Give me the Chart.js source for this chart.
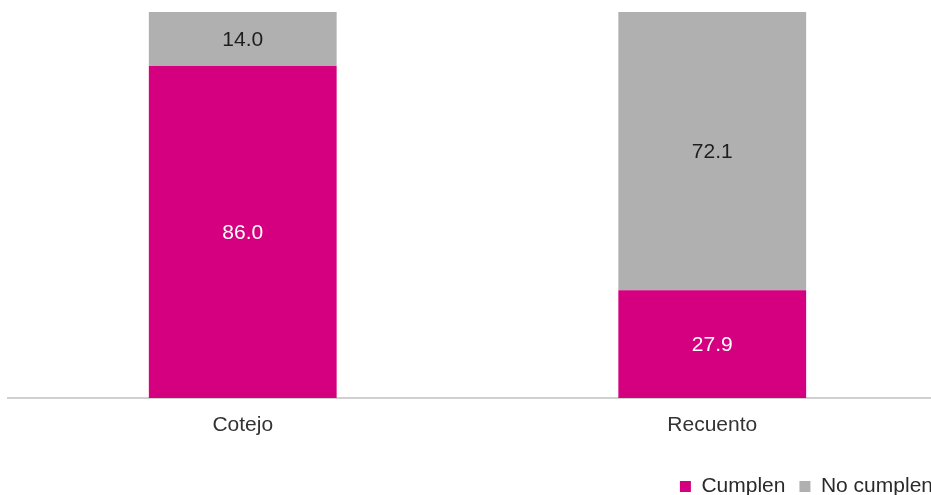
<!DOCTYPE html>
<html>
<head>
<meta charset="utf-8">
<script src="https://cdn.jsdelivr.net/npm/chart.js@4.4.0/dist/chart.umd.min.js"></script>
<style>
  html, body { margin: 0; padding: 0; background: #fff; overflow: hidden; }
  body { width: 931px; height: 495px; }
  #caja { width: 947px; height: 495px; position: relative; }
</style>
</head>
<body>
<div id="caja"><canvas id="grafica"></canvas></div>
<script>
// datos
const categorias = ['Cotejo', 'Recuento']
const cumplen = [86.0, 27.9]
const no_cumplen = [14.0, 72.1]

const fuente = '"Liberation Sans", Arial, sans-serif'

// etiquetas de valor dentro de cada segmento
const etiquetas = {
    id: 'etiquetas',
    afterDatasetsDraw(chart){
        const ctx = chart.ctx
        ctx.save()
        ctx.font = '21px ' + fuente
        ctx.textAlign = 'center'
        ctx.textBaseline = 'middle'
        chart.data.datasets.forEach(function(ds, i){
            const meta = chart.getDatasetMeta(i)
            meta.data.forEach(function(el, j){
                ctx.fillStyle = ds.colorEtiqueta
                ctx.fillText(ds.data[j].toFixed(1), el.x, (el.y + el.base) / 2 + 1)
            })
        })
        ctx.restore()
    }
}

const ctx = document.getElementById('grafica').getContext('2d')
const grafica = new Chart(ctx, {
    type: 'bar',
    data: {
        labels: categorias,
        datasets: [{
            label: 'Cumplen',
            data: cumplen,
            backgroundColor: '#D5007F',
            colorEtiqueta: '#ffffff',
            barPercentage: 0.4,
            categoryPercentage: 1
        }, {
            label: 'No cumplen',
            data: no_cumplen,
            backgroundColor: '#B0B0B0',
            colorEtiqueta: '#1e1e1e',
            barPercentage: 0.4,
            categoryPercentage: 1
        }]
    },
    options: {
        responsive: true,
        maintainAspectRatio: false,
        animation: false,
        layout: { padding: { top: 12, left: 8, right: 0, bottom: -12 } },
        scales: {
            x: {
                stacked: true,
                grid: { display: false, drawTicks: false },
                border: { display: true, color: '#D0D0D0', width: 2 },
                ticks: { color: '#333333', font: { family: fuente, size: 21 }, padding: 15 },
                afterFit: function(scale){ scale.height = 64 }
            },
            y: {
                stacked: true,
                display: false,
                min: 0,
                max: 100
            }
        },
        plugins: {
            legend: {
                position: 'bottom',
                align: 'end',
                labels: {
                    boxWidth: 11,
                    boxHeight: 11,
                    padding: 14,
                    color: '#2a2a2a',
                    font: { family: fuente, size: 21 }
                }
            },
            tooltip: { enabled: false }
        }
    },
    plugins: [etiquetas]
})
</script>
</body>
</html>
